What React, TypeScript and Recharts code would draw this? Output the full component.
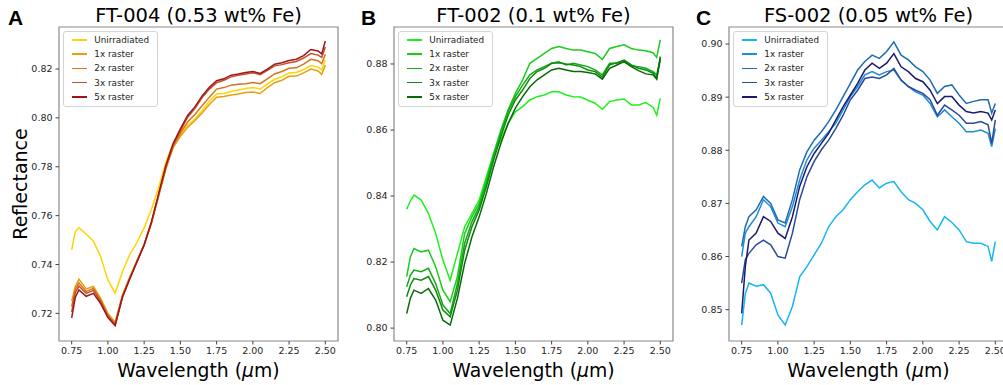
import React from 'react';
import { LineChart, Line, XAxis, YAxis, ReferenceArea } from 'recharts';

// wavelength grid (um)
const wavelengths = [
  0.75, 0.775, 0.8, 0.85, 0.9, 0.95, 1.0, 1.05, 1.1, 1.15, 1.2, 1.25, 1.3, 1.35, 1.4, 1.45, 1.5, 1.55, 1.6,
  1.65, 1.7, 1.75, 1.8, 1.85, 1.9, 1.95, 2.0, 2.05, 2.1, 2.15, 2.2, 2.25, 2.3, 2.35, 2.4, 2.45, 2.475, 2.5,
];

const seriesNames = ['Unirradiated', '1x raster', '2x raster', '3x raster', '5x raster'];
const xTicks = [0.75, 1.0, 1.25, 1.5, 1.75, 2.0, 2.25, 2.5];

// FT-004 (0.53 wt% Fe)
const ft004Unirradiated = [.7460, .7535, .7550, .7525, .7495, .7432, .7337, .7283, .7370, .7440, .7490, .7550, .7625, .7715, .7820, .7895, .7930, .7970, .7995, .8030, .8068, .8098, .8100, .8108, .8114, .8120, .8124, .8118, .8138, .8158, .8168, .8184, .8186, .8198, .8214, .8208, .8196, .8238];
const ft004Raster1 = [.7250, .7310, .7340, .7300, .7310, .7262, .7200, .7165, .7275, .7348, .7415, .7482, .7568, .7680, .7792, .7878, .7925, .7962, .7988, .8020, .8055, .8085, .8088, .8094, .8098, .8104, .8106, .8100, .8124, .8144, .8154, .8170, .8171, .8184, .8200, .8192, .8178, .8216];
const ft004Raster2 = [.7228, .7298, .7325, .7290, .7302, .7254, .7192, .7158, .7270, .7345, .7413, .7481, .7570, .7683, .7796, .7884, .7938, .7983, .8014, .8050, .8085, .8118, .8124, .8134, .8138, .8140, .8145, .8140, .8160, .8180, .8190, .8203, .8205, .8220, .8240, .8234, .8222, .8260];
const ft004Raster3 = [.7205, .7285, .7312, .7282, .7294, .7247, .7188, .7154, .7268, .7342, .7411, .7481, .7572, .7686, .7800, .7890, .7948, .8003, .8038, .8083, .8118, .8144, .8154, .8168, .8174, .8180, .8185, .8177, .8195, .8213, .8218, .8226, .8231, .8245, .8263, .8257, .8248, .8290];
const ft004Raster5 = [.7182, .7266, .7296, .7270, .7282, .7240, .7183, .7150, .7265, .7340, .7410, .7480, .7574, .7690, .7805, .7895, .7955, .8010, .8045, .8090, .8125, .8152, .8160, .8175, .8180, .8186, .8190, .8182, .8200, .8220, .8226, .8235, .8240, .8255, .8280, .8274, .8262, .8315];

// FT-002 (0.1 wt% Fe)
const ft002Unirradiated = [.8360, .8385, .8403, .8388, .8347, .8287, .8206, .8145, .8226, .8307, .8347, .8388, .8459, .8529, .8570, .8620, .8655, .8671, .8691, .8701, .8706, .8716, .8716, .8706, .8701, .8700, .8690, .8681, .8663, .8686, .8691, .8694, .8676, .8676, .8683, .8669, .8645, .8696];
const ft002Raster1 = [.8156, .8215, .8241, .8231, .8236, .8186, .8115, .8080, .8156, .8287, .8337, .8378, .8448, .8529, .8600, .8661, .8711, .8752, .8802, .8817, .8832, .8847, .8853, .8847, .8842, .8842, .8837, .8832, .8814, .8847, .8853, .8858, .8847, .8842, .8840, .8834, .8820, .8873];
const ft002Raster2 = [.8125, .8160, .8176, .8171, .8181, .8135, .8070, .8044, .8135, .8257, .8322, .8368, .8438, .8519, .8590, .8656, .8701, .8736, .8767, .8782, .8792, .8802, .8807, .8797, .8802, .8797, .8792, .8782, .8767, .8802, .8802, .8807, .8794, .8792, .8787, .8777, .8767, .8817];
const ft002Raster3 = [.8095, .8130, .8150, .8145, .8156, .8115, .8055, .8034, .8115, .8236, .8307, .8358, .8428, .8509, .8580, .8645, .8691, .8721, .8756, .8777, .8787, .8802, .8804, .8800, .8797, .8792, .8782, .8777, .8760, .8797, .8804, .8812, .8797, .8787, .8782, .8772, .8757, .8812];
const ft002Raster5 = [.8044, .8090, .8115, .8105, .8120, .8085, .8024, .8009, .8090, .8196, .8276, .8337, .8408, .8489, .8560, .8620, .8666, .8701, .8731, .8752, .8767, .8782, .8787, .8782, .8777, .8777, .8774, .8770, .8754, .8787, .8797, .8807, .8792, .8780, .8770, .8767, .8754, .8822];

// FS-002 (0.05 wt% Fe)
const fs002Unirradiated = [.8471, .8530, .8550, .8544, .8547, .8531, .8490, .8471, .8506, .8562, .8581, .8603, .8625, .8656, .8675, .8688, .8707, .8722, .8735, .8744, .8729, .8738, .8741, .8722, .8707, .8700, .8688, .8666, .8650, .8675, .8664, .8650, .8628, .8625, .8625, .8619, .8591, .8628];
const fs002Raster1 = [.8600, .8644, .8656, .8675, .8707, .8694, .8663, .8656, .8694, .8744, .8782, .8804, .8819, .8835, .8851, .8876, .8901, .8920, .8942, .8948, .8942, .8948, .8951, .8932, .8920, .8910, .8904, .8888, .8863, .8876, .8863, .8851, .8835, .8835, .8838, .8832, .8807, .8841];
const fs002Raster2 = [.8619, .8656, .8675, .8688, .8713, .8700, .8669, .8663, .8707, .8763, .8797, .8819, .8835, .8854, .8876, .8901, .8926, .8951, .8967, .8979, .8973, .8986, .9004, .8979, .8970, .8957, .8948, .8932, .8907, .8920, .8923, .8904, .8888, .8892, .8895, .8895, .8870, .8888];
const fs002Raster3 = [.8550, .8594, .8606, .8622, .8631, .8622, .8600, .8597, .8644, .8707, .8750, .8779, .8801, .8819, .8841, .8866, .8895, .8913, .8935, .8938, .8935, .8942, .8954, .8932, .8920, .8913, .8907, .8895, .8866, .8885, .8876, .8866, .8851, .8851, .8854, .8848, .8813, .8857];
const fs002Raster5 = [.8493, .8581, .8631, .8644, .8675, .8666, .8644, .8634, .8675, .8732, .8769, .8794, .8813, .8832, .8857, .8882, .8904, .8926, .8951, .8964, .8954, .8964, .8982, .8957, .8948, .8935, .8929, .8913, .8888, .8901, .8901, .8885, .8873, .8870, .8873, .8870, .8857, .8876];

const FONT = 'DejaVu Sans, sans-serif';
const PLOT_W = 279;
const PLOT_H = 314;
const PLOT_TOP = 27;
const X_DOMAIN: [number, number] = [0.6625, 2.5875];

type Panel = {
  letter: string;
  letterX: number;
  title: string;
  plotLeft: number;
  series: number[][];
  colors: string[];
  yDomain: [number, number];
  yTicks: number[];
};

const panels: Panel[] = [
  {
    letter: 'A', letterX: 8, title: 'FT-004 (0.53 wt% Fe)', plotLeft: 59,
    series: [ft004Unirradiated, ft004Raster1, ft004Raster2, ft004Raster3, ft004Raster5],
    colors: ['#FFD400', '#E8A010', '#D9731C', '#C4502C', '#9C1818'],
    yDomain: [0.7087, 0.8372], yTicks: [0.72, 0.74, 0.76, 0.78, 0.8, 0.82],
  },
  {
    letter: 'B', letterX: 361, title: 'FT-002 (0.1 wt% Fe)', plotLeft: 394,
    series: [ft002Unirradiated, ft002Raster1, ft002Raster2, ft002Raster3, ft002Raster5],
    colors: ['#1EF01E', '#1ACC1A', '#13AA13', '#0E8C0E', '#076A07'],
    yDomain: [0.7961, 0.8912], yTicks: [0.8, 0.82, 0.84, 0.86, 0.88],
  },
  {
    letter: 'C', letterX: 696, title: 'FS-002 (0.05 wt% Fe)', plotLeft: 729,
    series: [fs002Unirradiated, fs002Raster1, fs002Raster2, fs002Raster3, fs002Raster5],
    colors: ['#14B6F4', '#1E8CD6', '#1F6CB4', '#2A4A9A', '#1B1B6E'],
    yDomain: [0.8441, 0.9032], yTicks: [0.85, 0.86, 0.87, 0.88, 0.89, 0.9],
  },
];

const buildRows = (series: number[][]) =>
  wavelengths.map((w, i) => {
    const row: Record<string, number> = { w };
    series.forEach((s, k) => {
      row['s' + k] = s[i];
    });
    return row;
  });

const PanelLegend = ({ panel }: { panel: Panel }) => (
  <div
    style={{
      position: 'absolute',
      left: panel.plotLeft + 4.3,
      top: 31,
      border: '1px solid #d4d4d4',
      borderRadius: 3,
      background: 'rgba(255,255,255,0.85)',
      padding: '1px 5px 2px 7.4px',
      fontFamily: FONT,
      fontSize: 8.8,
      lineHeight: '14.2px',
      color: '#222',
      width: 80,
    }}
  >
    {seriesNames.map((name, k) => (
      <div key={name} style={{ display: 'flex', alignItems: 'center', height: 14.2, whiteSpace: 'nowrap' }}>
        <span style={{ display: 'inline-block', width: 15, height: 1.6, background: panel.colors[k], marginRight: 7.6 }} />
        <span>{name}</span>
      </div>
    ))}
  </div>
);

const tickStyle = { fontSize: 9.5, fill: '#262626', fontFamily: FONT };

const SpectraPanel = ({ panel }: { panel: Panel }) => {
  const chartLeft = panel.plotLeft - 59;
  const rows = buildRows(panel.series);
  return (
    <div style={{ position: 'absolute', left: chartLeft, top: 0 }}>
      <LineChart
        width={345}
        height={385}
        data={rows}
        margin={{ top: PLOT_TOP, right: 345 - 59 - PLOT_W, bottom: 385 - PLOT_TOP - PLOT_H - 30, left: 14 }}
      >
        <XAxis
          type="number"
          dataKey="w"
          domain={X_DOMAIN}
          ticks={xTicks}
          interval={0}
          allowDataOverflow
          tickFormatter={(v: number) => v.toFixed(2)}
          axisLine={false}
          tickLine={{ stroke: '#444' }}
          tickSize={3.5}
          tickMargin={2.5}
          tick={tickStyle}
          height={30}
        />
        <YAxis
          type="number"
          domain={panel.yDomain}
          ticks={panel.yTicks}
          interval={0}
          allowDataOverflow
          tickFormatter={(v: number) => v.toFixed(2)}
          axisLine={false}
          tickLine={{ stroke: '#444' }}
          tickSize={3.5}
          tickMargin={3}
          tick={tickStyle}
          width={45}
        />
        <ReferenceArea
          x1={X_DOMAIN[0]}
          x2={X_DOMAIN[1]}
          y1={panel.yDomain[0]}
          y2={panel.yDomain[1]}
          fill="none"
          fillOpacity={0}
          stroke="#8a8a8a"
          strokeWidth={1.2}
          ifOverflow="visible"
        />
        {panel.series.map((_, k) => (
          <Line
            key={k}
            type="linear"
            dataKey={'s' + k}
            name={seriesNames[k]}
            stroke={panel.colors[k]}
            strokeWidth={1.5}
            dot={false}
            isAnimationActive={false}
          />
        ))}
      </LineChart>
    </div>
  );
};

export default function App() {
  return (
    <div
      style={{
        position: 'absolute',
        left: 0,
        top: 0,
        width: 1003,
        height: 385,
        overflow: 'hidden',
        background: '#fff',
      }}
    >
      {panels.map((p) => (
        <SpectraPanel key={p.letter} panel={p} />
      ))}
      {panels.map((p) => (
        <PanelLegend key={'lg' + p.letter} panel={p} />
      ))}
      <svg width={1003} height={385} style={{ position: 'absolute', left: 0, top: 0, pointerEvents: 'none' }}>
        {panels.map((p) => (
          <g key={p.letter}>
            <text x={p.letterX} y={25} fontFamily="Liberation Sans, Arial, sans-serif" fontWeight="bold" fontSize={21} fill="#000">
              {p.letter}
            </text>
            <text x={p.plotLeft + PLOT_W / 2} y={21.7} textAnchor="middle" fontFamily={FONT} fontSize={19.5} fill="#000">
              {p.title}
            </text>
            <text x={p.plotLeft + PLOT_W / 2} y={376.5} textAnchor="middle" fontFamily={FONT} fontSize={18.8} fill="#000">
              Wavelength (<tspan fontStyle="italic">μ</tspan>m)
            </text>
          </g>
        ))}
        <text
          x={26.5}
          y={184}
          transform="rotate(-90 26.5 184)"
          textAnchor="middle"
          fontFamily={FONT}
          fontSize={19}
          fill="#000"
        >
          Reflectance
        </text>
      </svg>
    </div>
  );
}
